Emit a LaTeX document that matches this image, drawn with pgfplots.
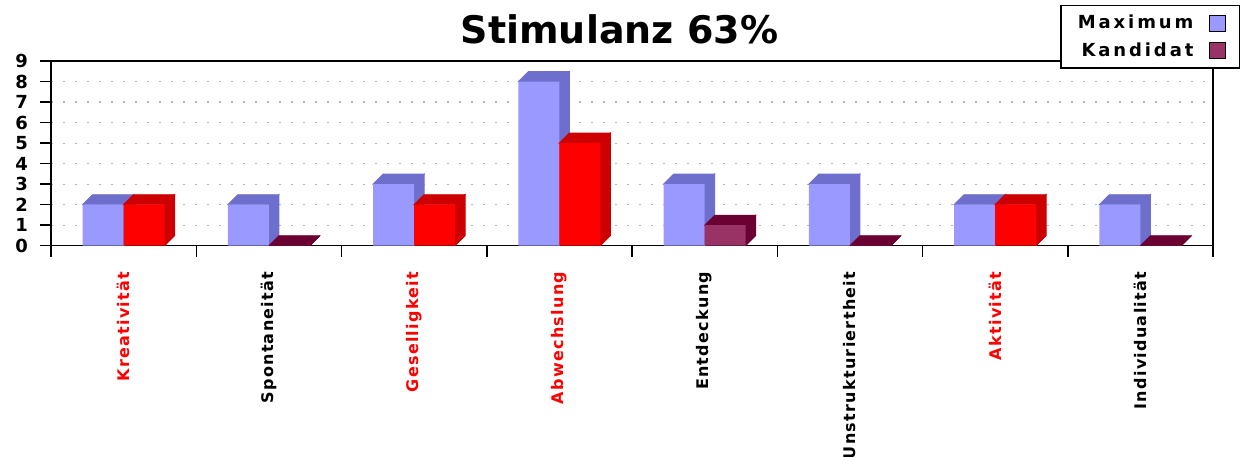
\documentclass[border=0pt]{standalone}
\usepackage{fontspec}
\setmainfont{DejaVu Sans}
\newfontfamily\lblfont{DejaVu Sans}[LetterSpace=8]
\newfontfamily\legfont{DejaVu Sans}[LetterSpace=16]
\usepackage{pgfplots}
\pgfplotsset{compat=1.18}
\usepackage{pgfplotstable}

\definecolor{maxfront}{HTML}{9999FF}
\definecolor{maxside}{HTML}{6E6ECC}
\definecolor{redfront}{HTML}{FF0000}
\definecolor{redside}{HTML}{CC0000}
\definecolor{kanfront}{HTML}{993366}
\definecolor{kanside}{HTML}{6B0033}
\definecolor{gridgray}{HTML}{B4B4B4}

\pgfdeclareplotmark{empty}{}

% Maximum
\pgfplotstableread{
x v
0 2
1 2
2 3
3 8
4 3
5 3
6 2
7 2
}\maxdata
% Kandidat, red bars
\pgfplotstableread{
x v
0 2
2 2
3 5
6 2
}\kanred
% Kandidat, the rest
\pgfplotstableread{
x v
1 0
4 1
5 0
7 0
}\kanrest

% top and side face of each bar, drawn at the data point
% #1 = bar shift, #2 = colour of the faces
\pgfplotsset{
  faces/.style 2 args={
    scatter, only marks, mark=empty, forget plot,
    visualization depends on={rawy \as \val},
    scatter/@pre marker code/.code={
      \fill[#2] ({#1-10.25pt},0pt) -- ++(5pt,5pt) -- ++(20.5pt,0pt) -- ++(-5pt,-5pt) -- cycle;
      \fill[#2] ({#1+10.25pt},0pt) -- ++(5pt,5pt) -- ++(0pt,{-\val*10.26pt}) -- ++(-5pt,-5pt) -- cycle;
    },
    scatter/@post marker code/.code={},
  },
  front/.style 2 args={ybar, bar width=20.5pt, bar shift=#1, fill=#2, draw=none, forget plot},
}

\begin{document}
\begin{tikzpicture}
\useasboundingbox (0,0) rectangle (621pt,228pt);
\begin{axis}[
  at={(25.5pt,105.15pt)}, anchor=south west,
  scale only axis, x=72.625pt, y=10.26pt,
  xmin=-0.5, xmax=7.5, ymin=0, ymax=9,
  clip marker paths=true,
  axis line style={black, line width=0.75pt},
  tick align=outside, xtick pos=bottom, ytick pos=left,
  major tick length=5.5pt, minor tick length=5.5pt,
  ytick={0,...,9},
  ytick style={black, line width=0.75pt},
  xtick={0,...,7},
  major x tick style={draw=none},
  minor xtick={-0.5,0.5,...,7.5},
  minor x tick style={black, line width=0.75pt},
  xticklabels={
    \textcolor{red}{Kreativität}, Spontaneität, \textcolor{red}{Geselligkeit},
    \textcolor{red}{Abwechslung}, Entdeckung, Unstrukturiertheit,
    \textcolor{red}{Aktivität}, Individualität},
  xticklabel style={rotate=90, anchor=east, xshift=-4pt, font=\lblfont\bfseries\fontsize{8}{9}\selectfont},
  yticklabel style={xshift=-2.5pt, font=\bfseries\fontsize{9}{10}\selectfont},
  /pgf/number format/assume math mode=true,
  ymajorgrids,
  grid style={gridgray, line width=0.6pt, dash pattern=on 1.2pt off 4.8pt},
  title={Stimulanz 63\%},
  title style={at={(0.4892,1.105)}, anchor=center, font=\bfseries\fontsize{19}{21}\selectfont},
  legend plot pos=right,
  legend cell align=right,
  legend style={at={(1.0232,1.303)}, anchor=north east, draw=black, line width=0.6pt,
    fill=white, font=\legfont\bfseries\fontsize{9}{10}\selectfont, row sep=1.5pt,
    column sep=6pt, inner xsep=6.5pt, inner ysep=2.5pt},
]
\addlegendimage{legend image code/.code={\draw[fill=maxfront, draw=black, line width=0.5pt] (0pt,-4pt) rectangle (8pt,4pt);}}
\addlegendentry{Maximum}
\addlegendimage{legend image code/.code={\draw[fill=kanfront, draw=black, line width=0.5pt] (0pt,-4pt) rectangle (8pt,4pt);}}
\addlegendentry{Kandidat}

\addplot[faces={-10.25pt}{maxside}] table[x=x, y=v] {\maxdata};
\addplot[front={-10.25pt}{maxfront}] table[x=x, y=v] {\maxdata};
\addplot[faces={10.25pt}{redside}] table[x=x, y=v] {\kanred};
\addplot[front={10.25pt}{redfront}] table[x=x, y=v] {\kanred};
\addplot[faces={10.25pt}{kanside}] table[x=x, y=v] {\kanrest};
\addplot[front={10.25pt}{kanfront}] table[x=x, y=v] {\kanrest};
\end{axis}
\end{tikzpicture}
\end{document}
